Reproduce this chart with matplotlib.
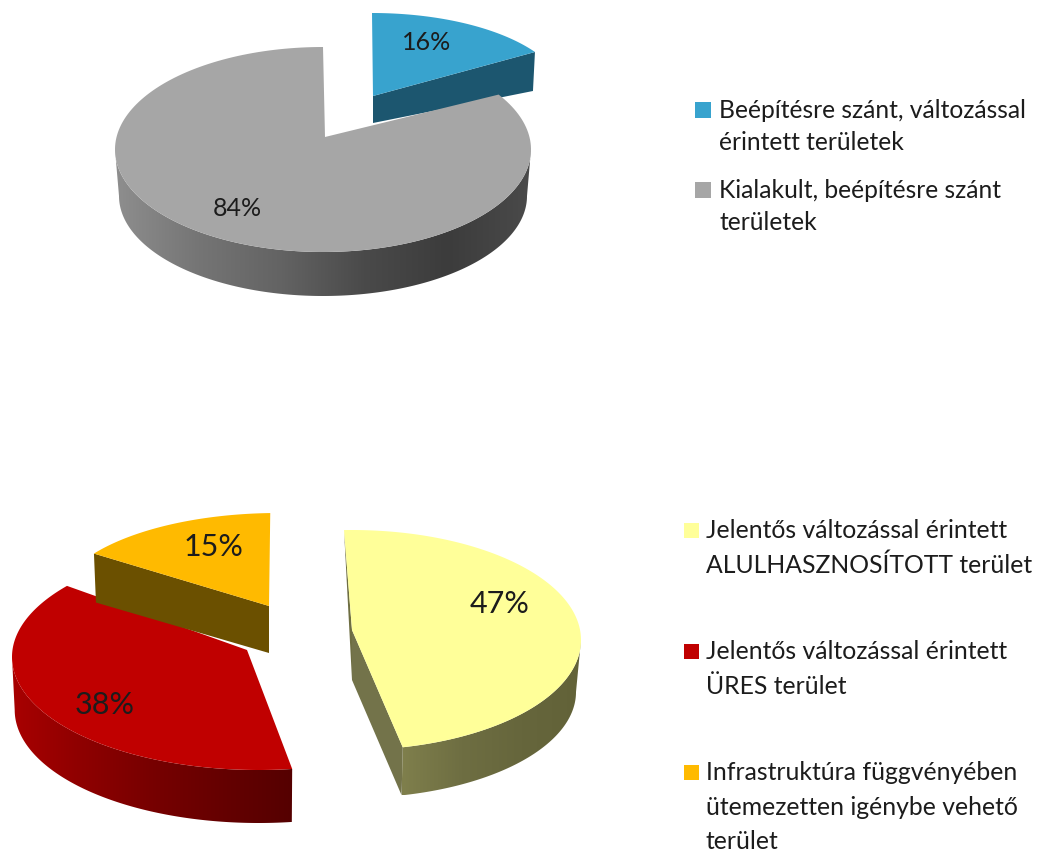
import numpy as np
import matplotlib
matplotlib.use("Agg")
import matplotlib.pyplot as plt
from matplotlib.colors import LinearSegmentedColormap
from matplotlib.patches import Polygon, Rectangle

plt.rcParams['font.family'] = ['Lato', 'DejaVu Sans']

# data
top_values = [16, 84]
top_labels = ["Beépítésre szánt, változással\nérintett területek",
              "Kialakult, beépítésre szánt\nterületek"]
bottom_values = [47, 38, 15]
bottom_labels = ["Jelentős változással érintett\nALULHASZNOSÍTOTT terület",
                 "Jelentős változással érintett\nÜRES terület",
                 "Infrastruktúra függvényében\nütemezetten igénybe vehető\nterület"]

TEXT = "#1c1c1c"


def ell(s, t):
    # s: (cx, cy, rx, ry), t in degrees clockwise from 12 o'clock
    t = np.radians(t)
    return np.column_stack([s[0] + s[2] * np.sin(t), s[1] - s[3] * np.cos(t)])


def arc(s, t0, t1):
    return ell(s, np.linspace(t0, t1, 200))


def gradient_fill(ax, pts, colors, z):
    # horizontal gradient clipped to the polygon
    cmap = LinearSegmentedColormap.from_list("side", colors)
    x0, x1 = pts[:, 0].min(), pts[:, 0].max()
    y0, y1 = pts[:, 1].min(), pts[:, 1].max()
    im = ax.imshow(np.linspace(0, 1, 256)[None, :], cmap=cmap, extent=(x0, x1, y1, y0),
                   aspect="auto", zorder=z)
    poly = Polygon(pts, closed=True, transform=ax.transData, fc="none", ec="none")
    ax.add_patch(poly)
    im.set_clip_path(poly)


def slice3d(ax, t0, t1, apex, apex_low, top, low, color, side=None, cut_end=None, cut_start=None, z=1):
    # outer wall only where the slice faces the viewer (90..270 deg)
    if side is not None:
        a, b = max(t0, 90), min(t1, 270)
        wall = np.vstack([arc(top, a, b), arc(low, a, b)[::-1]])
        gradient_fill(ax, wall, side, z)
    if cut_end is not None:
        p, q = ell(top, t1)[0], ell(low, t1)[0]
        if cut_end[1] is not None:
            q = p + cut_end[1]
        ax.add_patch(Polygon([apex, p, q, apex_low], fc=cut_end[0], ec="none", zorder=z))
    if cut_start is not None:
        p = ell(top, t0)[0]
        ax.add_patch(Polygon([p, apex, apex_low], fc=cut_start, ec="none", zorder=z))
    face = np.vstack([[apex], arc(top, t0, t1)])
    ax.add_patch(Polygon(face, fc=color, ec="none", zorder=z + 0.5))


def legend_block(ax, labels, colors, box_ys, baselines, x_box, x_text, size, fs):
    # one text per line, so the lines sit on the baselines
    lines = [line for lab in labels for line in lab.split("\n")]
    for c, y in zip(colors, box_ys):
        ax.add_patch(Rectangle((x_box, y - size / 2), size, size, fc=c, ec="none", zorder=5))
    for line, y in zip(lines, baselines):
        ax.text(x_text, y, line, fontsize=fs, color=TEXT, va="baseline", ha="left", zorder=5)


fig = plt.figure(figsize=(10.47, 8.52), dpi=100)
ax = fig.add_axes([0, 0, 1, 1])

# upper pie
cum = np.cumsum([0] + top_values) * 3.6
slice3d(ax, cum[0], cum[1], (373, 96), (373, 123), (372, 97, 193, 84), (372, 136, 193, 84),
        "#38A3CE", cut_end=("#1C566F", np.array([-2, 39])), z=1)
slice3d(ax, cum[1], cum[2], (325, 137), (325, 137), (323, 149.5, 208, 102.5), (323, 196, 204, 100),
        "#A6A6A6", side=["#8E8E8E", "#757575", "#636363", "#4A4A4A", "#3C3C3C", "#4A4A4A"], z=2)
for v, pos in zip(top_values, [(427, 42), (237, 208)]):
    ax.text(pos[0], pos[1], f"{v}%", fontsize=18, color=TEXT, ha="center", va="center", zorder=6)

# lower pie
start = -2
red_shift = 5  # perspective pulls the red wedge round a little
cum = start + np.cumsum([0] + bottom_values) * 3.6
slice3d(ax, cum[0], cum[1], (352, 630), (352, 680), (352, 640, 229, 110), (352, 692, 224, 106),
        "#FFFF99", side=["#7F7F4C", "#6E6E42", "#66663C", "#626238"],
        cut_end=("#73734A", None), cut_start="#6E6E42", z=1)
slice3d(ax, cum[1] + red_shift, cum[2] + red_shift, (247, 650), (247, 650), (258.7, 657, 246.7, 113),
        (258.7, 710, 244, 113),
        "#C00000", side=["#A80000", "#8E0000", "#770000", "#650000", "#550000"], z=2)
slice3d(ax, cum[2], cum[3], (269, 606), (269, 653), (278, 605, 222, 92), (278, 652, 220, 92),
        "#FFBA00", cut_end=None, z=3)
# orange wedge shows its first cut face, which points to the viewer
p = ell((278, 605, 222, 92), cum[2])[0]
ax.add_patch(Polygon([p, (269, 606), (269, 653), p + np.array([2, 49])], fc="#6B5000", ec="none", zorder=2.9))
for v, pos in zip(bottom_values, [(500, 604), (105, 705), (213, 547)]):
    ax.text(pos[0], pos[1], f"{v}%", fontsize=22, color=TEXT, ha="center", va="center", zorder=6)

legend_block(ax, top_labels, ["#38A3CE", "#A6A6A6"], [110, 190], [118, 150, 198, 230], 695, 719, 16, 17.7)
legend_block(ax, bottom_labels, ["#FFFF99", "#C00000", "#FFBA00"], [530, 651, 772],
             [538, 573, 659, 694, 780, 815, 849], 684, 706, 15, 17.8)

ax.set_xlim(0, 1047)
ax.set_ylim(852, 0)
ax.axis("off")
fig.savefig("out.png", dpi=100, facecolor="white")
